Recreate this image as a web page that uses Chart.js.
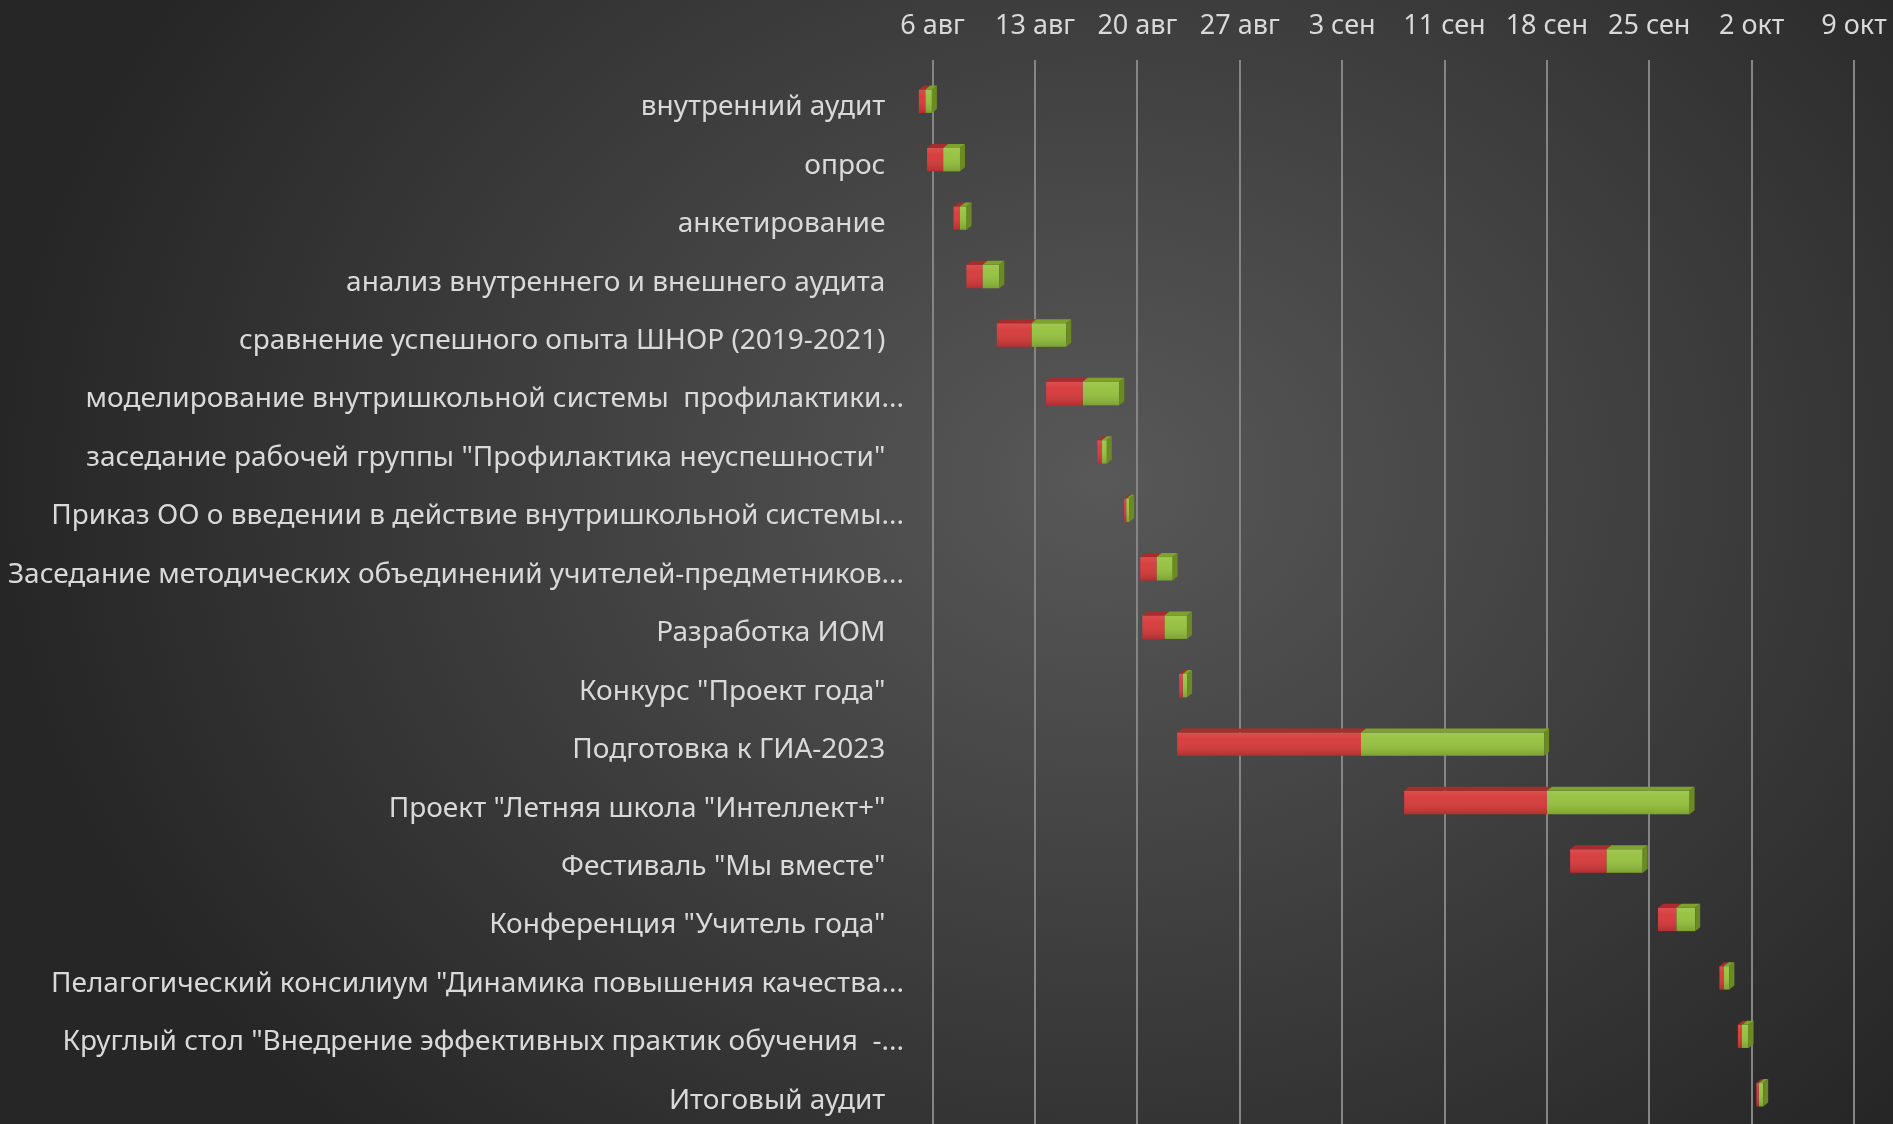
<!DOCTYPE html>
<html lang="ru">
<head>
<meta charset="utf-8">
<title>График работ</title>
<script src="https://cdn.jsdelivr.net/npm/chart.js@4.4.0/dist/chart.umd.min.js"></script>
<style>
  html, body { margin: 0; padding: 0; background: #2b2b2b; overflow: hidden; }
  canvas { display: block; }
</style>
</head>
<body>
<canvas id="gantt" width="1893" height="1124"></canvas>
<script>
// tasks, top to bottom
const tasks = [
  "внутренний аудит",
  "опрос",
  "анкетирование",
  "анализ внутреннего и внешнего аудита",
  "сравнение успешного опыта ШНОР (2019-2021)",
  "моделирование внутришкольной системы  профилактики...",
  "заседание рабочей группы \"Профилактика неуспешности\"",
  "Приказ ОО о введении в действие внутришкольной системы...",
  "Заседание методических объединений учителей-предметников...",
  "Разработка ИОМ",
  "Конкурс \"Проект года\"",
  "Подготовка к ГИА-2023",
  "Проект \"Летняя школа \"Интеллект+\"",
  "Фестиваль \"Мы вместе\"",
  "Конференция \"Учитель года\"",
  "Пелагогический консилиум \"Динамика повышения качества...",
  "Круглый стол \"Внедрение эффективных практик обучения  -...",
  "Итоговый аудит"
];

// days counted from 6 авг
const startDay = [-0.94, -0.38, 1.43, 2.31, 4.39, 7.76, 11.26, 13.09, 14.19, 14.34, 16.85, 16.72, 32.24, 43.59, 49.6, 53.8, 55.06, 56.33];
const doneDays = [0.44, 1.1, 0.44, 1.1, 2.37, 2.5, 0.3, 0.15, 1.12, 1.51, 0.25, 12.57, 9.77, 2.48, 1.25, 0.28, 0.28, 0.16];
const leftDays = [0.45, 1.15, 0.45, 1.15, 2.37, 2.5, 0.35, 0.2, 1.1, 1.54, 0.3, 12.52, 9.75, 2.48, 1.29, 0.4, 0.45, 0.3];

const tickDays = [0, 7, 14, 21, 28, 35, 42, 49, 56, 63];
const tickLabels = ["6 авг", "13 авг", "20 авг", "27 авг", "3 сен", "11 сен", "18 сен", "25 сен", "2 окт", "9 окт"];

const fontFamily = "'Noto Sans', sans-serif";

const doneBars = startDay.map((s, i) => [s, s + doneDays[i]]);
const leftBars = startDay.map((s, i) => [s + doneDays[i], s + doneDays[i] + leftDays[i]]);

const background = {
  id: "background",
  beforeDraw(chart) {
    const ctx = chart.ctx;
    const w = chart.width, h = chart.height;
    ctx.save();
    ctx.translate(1100, 480);
    ctx.scale(1, 900 / 1100);
    const g = ctx.createRadialGradient(0, 0, 0, 0, 0, 1100);
    g.addColorStop(0, "#585858");
    g.addColorStop(1, "#262626");
    ctx.fillStyle = g;
    ctx.fillRect(-1100, -480 * 1100 / 900, w, h * 1100 / 900);
    ctx.restore();
  }
};

// bevel: top face for every bar, right face for the last segment
const bevel = {
  id: "bevel",
  afterDatasetsDraw(chart) {
    const ctx = chart.ctx;
    const dx = 5, dy = 4;
    const faces = [
      { top: "#a82c2c", side: "#8e2323" },
      { top: "#7fa22d", side: "#6a8a24" }
    ];
    ctx.save();
    chart.data.datasets.forEach((ds, di) => {
      const meta = chart.getDatasetMeta(di);
      meta.data.forEach((bar) => {
        const x0 = Math.min(bar.base, bar.x);
        const x1 = Math.max(bar.base, bar.x);
        const y0 = bar.y - bar.height / 2;
        const y1 = bar.y + bar.height / 2;
        const shade = ctx.createLinearGradient(0, y0, 0, y1);
        shade.addColorStop(0, "rgba(255,255,255,0.12)");
        shade.addColorStop(0.3, "rgba(255,255,255,0.04)");
        shade.addColorStop(1, "rgba(0,0,0,0.16)");
        ctx.fillStyle = shade;
        ctx.fillRect(x0, y0, x1 - x0, y1 - y0);

        ctx.fillStyle = faces[di].top;
        ctx.beginPath();
        ctx.moveTo(x0, y0);
        ctx.lineTo(x0 + dx, y0 - dy);
        ctx.lineTo(x1 + dx, y0 - dy);
        ctx.lineTo(x1, y0);
        ctx.closePath();
        ctx.fill();

        if (di === 1) {
          ctx.fillStyle = faces[di].side;
          ctx.beginPath();
          ctx.moveTo(x1, y0);
          ctx.lineTo(x1 + dx, y0 - dy);
          ctx.lineTo(x1 + dx, y1 - dy);
          ctx.lineTo(x1, y1);
          ctx.closePath();
          ctx.fill();
        }
      });
    });
    ctx.restore();
  }
};

const ctx = document.getElementById("gantt").getContext("2d");

new Chart(ctx, {
  type: "bar",
  data: {
    labels: tasks,
    datasets: [
      { label: "выполнено", data: doneBars, backgroundColor: "#d63838", borderWidth: 0 },
      { label: "осталось", data: leftBars, backgroundColor: "#94c13c", borderWidth: 0 }
    ]
  },
  options: {
    indexAxis: "y",
    responsive: false,
    animation: false,
    devicePixelRatio: 1,
    barPercentage: 0.4,
    categoryPercentage: 1,
    layout: { padding: { left: 0, right: 39, top: 0, bottom: 0 } },
    plugins: {
      legend: { display: false },
      tooltip: { enabled: false }
    },
    scales: {
      x: {
        position: "top",
        min: -1,
        max: 63,
        afterBuildTicks: (axis) => {
          axis.ticks = tickDays.map((v) => ({ value: v }));
        },
        afterFit: (axis) => {
          axis.height = 72;
          axis.paddingLeft = 0;
          axis.paddingRight = 0;
        },
        ticks: {
          color: "#d9d9d9",
          font: { family: fontFamily, size: 27 },
          padding: 17,
          maxRotation: 0,
          autoSkip: false,
          callback: (value) => {
            const i = tickDays.indexOf(value);
            return i >= 0 ? tickLabels[i] : "";
          }
        },
        grid: {
          color: "#858585",
          lineWidth: 2,
          drawTicks: true,
          tickLength: 12
        },
        border: { display: false }
      },
      y: {
        stacked: true,
        afterFit: (axis) => {
          axis.width = 918;
          axis.paddingTop = 0;
          axis.paddingBottom = 0;
        },
        ticks: {
          color: "#d9d9d9",
          font: { family: fontFamily, size: 28 },
          padding: 6,
          labelOffset: 6,
          autoSkip: false,
          // truncated labels stick out past the others, as in the source
          callback: function (value) {
            const label = this.getLabelForValue(value);
            return label.endsWith("...") ? label : label + "\u2002\u2009";
          }
        },
        grid: { display: false },
        border: { display: false }
      }
    }
  },
  plugins: [background, bevel]
});
</script>
</body>
</html>
